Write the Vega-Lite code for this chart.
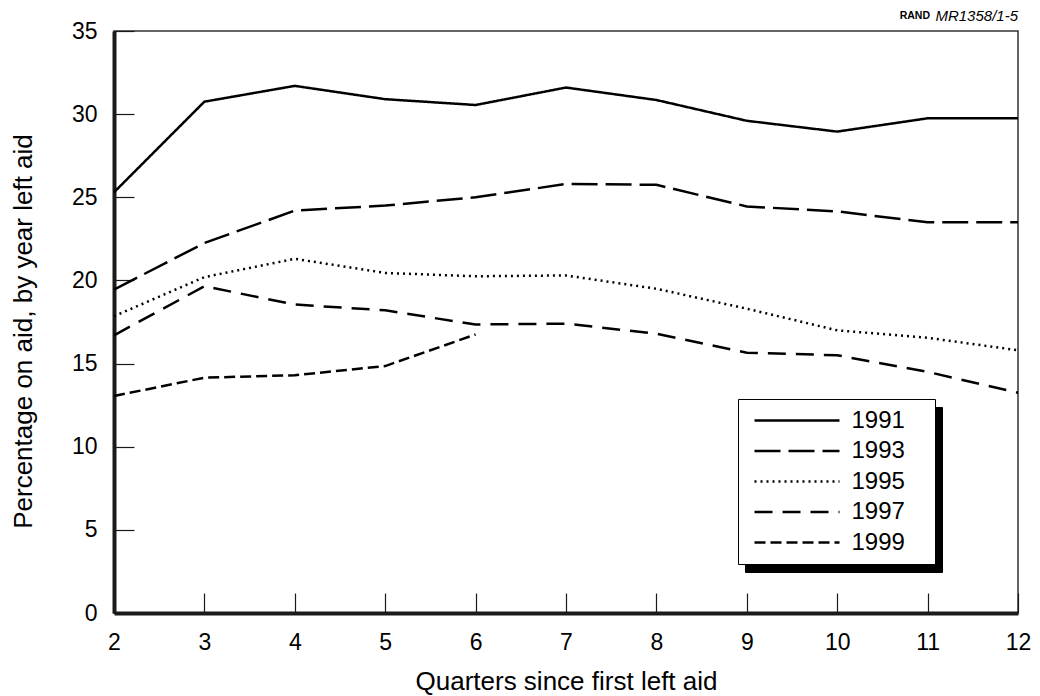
{
  "$schema": "https://vega.github.io/schema/vega-lite/v6.json",
  "width": 904,
  "height": 582,
  "autosize": {"type": "none"},
  "padding": {"left": 114, "top": 31, "right": 22, "bottom": 83},
  "background": "white",
  "config": {
    "font": "Liberation Sans",
    "view": {"stroke": "#333333", "strokeWidth": 1.5},
    "axis": {
      "domainColor": "#1a1a1a",
      "domainWidth": 4,
      "tickColor": "#1a1a1a",
      "tickWidth": 1.2,
      "tickSize": -20,
      "labelFont": "Liberation Sans",
      "labelFontSize": 23,
      "labelColor": "black",
      "titleFont": "Liberation Sans",
      "titleFontSize": 26,
      "titleFontWeight": "normal",
      "titleColor": "black",
      "grid": false,
      "labelOverlap": false,
      "labelFlush": false
    },
    "legend": {
      "labelFont": "Liberation Sans",
      "labelFontSize": 24,
      "labelColor": "black"
    }
  },
  "datasets": {
    "series": [
      {"year": "1991", "quarter": 2, "pct": 25.3},
      {"year": "1991", "quarter": 3, "pct": 30.75},
      {"year": "1991", "quarter": 4, "pct": 31.7},
      {"year": "1991", "quarter": 5, "pct": 30.9},
      {"year": "1991", "quarter": 6, "pct": 30.55},
      {"year": "1991", "quarter": 7, "pct": 31.6},
      {"year": "1991", "quarter": 8, "pct": 30.85},
      {"year": "1991", "quarter": 9, "pct": 29.6},
      {"year": "1991", "quarter": 10, "pct": 28.95},
      {"year": "1991", "quarter": 11, "pct": 29.75},
      {"year": "1991", "quarter": 12, "pct": 29.75},
      {"year": "1993", "quarter": 2, "pct": 19.45},
      {"year": "1993", "quarter": 3, "pct": 22.25},
      {"year": "1993", "quarter": 4, "pct": 24.2},
      {"year": "1993", "quarter": 5, "pct": 24.5},
      {"year": "1993", "quarter": 6, "pct": 25.0},
      {"year": "1993", "quarter": 7, "pct": 25.8},
      {"year": "1993", "quarter": 8, "pct": 25.75},
      {"year": "1993", "quarter": 9, "pct": 24.45},
      {"year": "1993", "quarter": 10, "pct": 24.15},
      {"year": "1993", "quarter": 11, "pct": 23.5},
      {"year": "1993", "quarter": 12, "pct": 23.5},
      {"year": "1995", "quarter": 2, "pct": 17.85},
      {"year": "1995", "quarter": 3, "pct": 20.2},
      {"year": "1995", "quarter": 4, "pct": 21.3},
      {"year": "1995", "quarter": 5, "pct": 20.45},
      {"year": "1995", "quarter": 6, "pct": 20.25},
      {"year": "1995", "quarter": 7, "pct": 20.3},
      {"year": "1995", "quarter": 8, "pct": 19.5},
      {"year": "1995", "quarter": 9, "pct": 18.3},
      {"year": "1995", "quarter": 10, "pct": 17.0},
      {"year": "1995", "quarter": 11, "pct": 16.55},
      {"year": "1995", "quarter": 12, "pct": 15.8},
      {"year": "1997", "quarter": 2, "pct": 16.7},
      {"year": "1997", "quarter": 3, "pct": 19.65},
      {"year": "1997", "quarter": 4, "pct": 18.55},
      {"year": "1997", "quarter": 5, "pct": 18.2},
      {"year": "1997", "quarter": 6, "pct": 17.35},
      {"year": "1997", "quarter": 7, "pct": 17.4},
      {"year": "1997", "quarter": 8, "pct": 16.8},
      {"year": "1997", "quarter": 9, "pct": 15.65},
      {"year": "1997", "quarter": 10, "pct": 15.5},
      {"year": "1997", "quarter": 11, "pct": 14.5},
      {"year": "1997", "quarter": 12, "pct": 13.25},
      {"year": "1999", "quarter": 2, "pct": 13.05},
      {"year": "1999", "quarter": 3, "pct": 14.15},
      {"year": "1999", "quarter": 4, "pct": 14.3},
      {"year": "1999", "quarter": 5, "pct": 14.85},
      {"year": "1999", "quarter": 6, "pct": 16.75}
    ],
    "legendshadow": [
      {"entry": "1991"},
      {"entry": "1993"},
      {"entry": "1995"},
      {"entry": "1997"},
      {"entry": "1999"}
    ],
    "notes": [
      {"label": "RAND"}
    ],
    "notes2": [
      {"label": "MR1358/1-5"}
    ]
  },
  "resolve": {"scale": {"strokeDash": "independent"}, "legend": {"strokeDash": "independent"}},
  "layer": [
    {
      "data": {"name": "legendshadow"},
      "mark": {"type": "line", "opacity": 0},
      "encoding": {
        "strokeDash": {
          "field": "entry",
          "type": "nominal",
          "scale": {
            "domain": ["1991", "1993", "1995", "1997", "1999"],
            "range": [[1, 0], [26, 8], [2, 4], [18, 10], [11, 5]]
          },
          "legend": {
            "orient": "none",
            "legendX": 631,
            "legendY": 376,
            "zindex": 0,
            "title": null,
            "symbolType": "M-1,0H7.5M15.6,0",
            "symbolSize": 400,
            "symbolStrokeWidth": 2.5,
            "symbolOffset": 5,
            "symbolStrokeColor": "black",
            "fillColor": "black",
            "strokeColor": "black",
            "padding": 9.5,
            "rowPadding": 6.5,
            "labelOffset": 75,
            "labelColor": "black",
            "labelExpr": "''"
          }
        }
      }
    },
    {
      "data": {"name": "series"},
      "mark": {"type": "line", "color": "black", "strokeWidth": 2.5},
      "encoding": {
        "x": {
          "field": "quarter",
          "type": "quantitative",
          "scale": {"domain": [2, 12], "nice": false, "zero": false},
          "axis": {
            "values": [2, 3, 4, 5, 6, 7, 8, 9, 10, 11, 12],
            "format": "d",
            "labelPadding": 38,
            "title": "Quarters since first left aid",
            "titlePadding": 14
          }
        },
        "y": {
          "field": "pct",
          "type": "quantitative",
          "scale": {"domain": [0, 35], "nice": false},
          "axis": {
            "values": [0, 5, 10, 15, 20, 25, 30, 35],
            "format": "d",
            "labelPadding": 37,
            "title": "Percentage on aid, by year left aid",
            "titlePadding": 35,
            "titleY": 300
          }
        },
        "strokeDash": {
          "field": "year",
          "type": "nominal",
          "scale": {
            "domain": ["1991", "1993", "1995", "1997", "1999"],
            "range": [[1, 0], [26, 8], [2, 4], [18, 10], [11, 5]]
          },
          "legend": {
            "orient": "none",
            "legendX": 624,
            "legendY": 368,
            "zindex": 1,
            "title": null,
            "symbolType": "M-1,0H7.5M15.6,0",
            "symbolSize": 400,
            "symbolStrokeWidth": 2.5,
            "symbolOffset": 5,
            "symbolStrokeColor": "black",
            "fillColor": "white",
            "strokeColor": "black",
            "padding": 9.5,
            "rowPadding": 6.5,
            "labelOffset": 75
          }
        }
      }
    },
    {
      "data": {"name": "notes"},
      "mark": {"type": "text", "align": "right", "baseline": "middle", "fontSize": 10.5, "fontWeight": "bold", "dx": -88, "dy": -15, "color": "black"},
      "encoding": {
        "x": {"datum": 12, "type": "quantitative"},
        "y": {"datum": 35, "type": "quantitative"},
        "text": {"field": "label"}
      }
    },
    {
      "data": {"name": "notes2"},
      "mark": {"type": "text", "align": "right", "baseline": "middle", "fontSize": 15, "fontStyle": "italic", "dx": 0, "dy": -15, "color": "black"},
      "encoding": {
        "x": {"datum": 12, "type": "quantitative"},
        "y": {"datum": 35, "type": "quantitative"},
        "text": {"field": "label"}
      }
    }
  ]
}
